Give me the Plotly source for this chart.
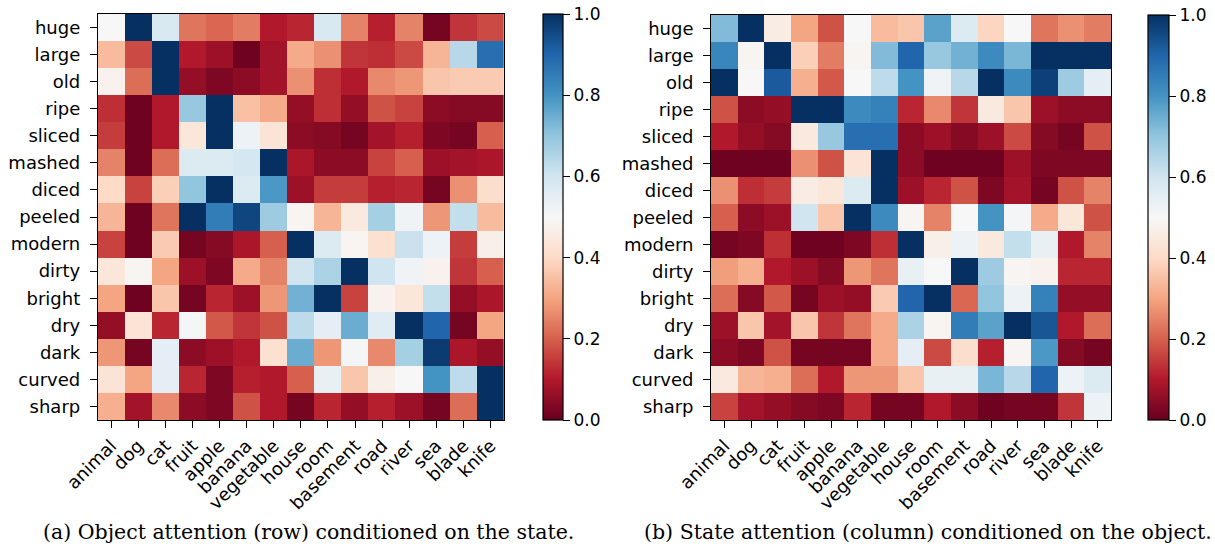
import plotly.graph_objects as go

states = ["huge", "large", "old", "ripe", "sliced", "mashed", "diced", "peeled",
          "modern", "dirty", "bright", "dry", "dark", "curved", "sharp"]
objects = ["animal", "dog", "cat", "fruit", "apple", "banana", "vegetable", "house",
           "room", "basement", "road", "river", "sea", "blade", "knife"]

# (a) Object attention (row) conditioned on the state
attn_a = [
    [0.50, 1.00, 0.58, 0.23, 0.21, 0.24, 0.10, 0.12, 0.58, 0.25, 0.11, 0.25, 0.02, 0.14, 0.17],
    [0.34, 0.17, 1.00, 0.10, 0.07, 0.01, 0.08, 0.31, 0.27, 0.14, 0.13, 0.17, 0.33, 0.64, 0.88],
    [0.48, 0.22, 1.00, 0.06, 0.03, 0.05, 0.08, 0.27, 0.13, 0.10, 0.26, 0.28, 0.36, 0.37, 0.37],
    [0.13, 0.01, 0.10, 0.69, 1.00, 0.35, 0.31, 0.06, 0.13, 0.06, 0.18, 0.16, 0.05, 0.04, 0.04],
    [0.15, 0.01, 0.10, 0.44, 1.00, 0.53, 0.43, 0.05, 0.04, 0.02, 0.08, 0.11, 0.03, 0.02, 0.20],
    [0.25, 0.01, 0.22, 0.57, 0.57, 0.59, 1.00, 0.09, 0.05, 0.05, 0.16, 0.20, 0.07, 0.08, 0.09],
    [0.40, 0.16, 0.38, 0.70, 1.00, 0.57, 0.79, 0.07, 0.15, 0.15, 0.11, 0.12, 0.02, 0.27, 0.41],
    [0.33, 0.01, 0.23, 1.00, 0.85, 0.96, 0.68, 0.49, 0.33, 0.45, 0.67, 0.52, 0.28, 0.62, 0.34],
    [0.16, 0.01, 0.37, 0.02, 0.04, 0.09, 0.20, 1.00, 0.57, 0.49, 0.42, 0.61, 0.53, 0.15, 0.47],
    [0.44, 0.49, 0.30, 0.07, 0.03, 0.31, 0.25, 0.60, 0.66, 1.00, 0.60, 0.52, 0.48, 0.14, 0.20],
    [0.30, 0.01, 0.36, 0.02, 0.12, 0.07, 0.28, 0.74, 1.00, 0.16, 0.48, 0.44, 0.62, 0.06, 0.09],
    [0.06, 0.43, 0.12, 0.51, 0.19, 0.14, 0.18, 0.63, 0.55, 0.75, 0.56, 1.00, 0.90, 0.02, 0.30],
    [0.28, 0.02, 0.55, 0.05, 0.07, 0.10, 0.42, 0.75, 0.28, 0.51, 0.26, 0.67, 0.98, 0.09, 0.06],
    [0.43, 0.30, 0.55, 0.12, 0.03, 0.11, 0.10, 0.20, 0.54, 0.36, 0.47, 0.50, 0.80, 0.63, 1.00],
    [0.32, 0.08, 0.26, 0.05, 0.03, 0.18, 0.10, 0.02, 0.12, 0.06, 0.11, 0.07, 0.02, 0.22, 1.00],
]

# (b) State attention (column) conditioned on the object
attn_b = [
    [0.72, 1.00, 0.46, 0.30, 0.18, 0.50, 0.34, 0.36, 0.77, 0.57, 0.39, 0.50, 0.23, 0.27, 0.24],
    [0.83, 0.49, 1.00, 0.38, 0.24, 0.49, 0.72, 0.90, 0.69, 0.74, 0.82, 0.73, 1.00, 1.00, 1.00],
    [1.00, 0.50, 0.92, 0.32, 0.19, 0.50, 0.63, 0.80, 0.52, 0.64, 1.00, 0.82, 0.97, 0.68, 0.55],
    [0.18, 0.05, 0.06, 1.00, 1.00, 0.82, 0.84, 0.12, 0.26, 0.14, 0.45, 0.36, 0.07, 0.05, 0.05],
    [0.10, 0.06, 0.04, 0.45, 0.69, 0.88, 0.88, 0.05, 0.07, 0.04, 0.07, 0.17, 0.04, 0.02, 0.18],
    [0.01, 0.01, 0.01, 0.27, 0.18, 0.43, 1.00, 0.05, 0.01, 0.01, 0.01, 0.07, 0.03, 0.03, 0.03],
    [0.27, 0.13, 0.15, 0.46, 0.44, 0.57, 1.00, 0.07, 0.12, 0.18, 0.03, 0.08, 0.02, 0.18, 0.25],
    [0.20, 0.05, 0.07, 0.60, 0.36, 1.00, 0.82, 0.49, 0.25, 0.50, 0.80, 0.51, 0.31, 0.44, 0.18],
    [0.02, 0.03, 0.13, 0.01, 0.01, 0.03, 0.13, 1.00, 0.47, 0.53, 0.45, 0.62, 0.54, 0.10, 0.25],
    [0.29, 0.32, 0.10, 0.07, 0.04, 0.28, 0.23, 0.54, 0.50, 1.00, 0.68, 0.49, 0.48, 0.12, 0.12],
    [0.22, 0.04, 0.19, 0.02, 0.07, 0.06, 0.37, 0.90, 1.00, 0.21, 0.70, 0.53, 0.84, 0.06, 0.06],
    [0.07, 0.36, 0.08, 0.36, 0.14, 0.23, 0.31, 0.66, 0.49, 0.85, 0.77, 1.00, 0.93, 0.10, 0.22],
    [0.05, 0.03, 0.18, 0.02, 0.02, 0.02, 0.31, 0.55, 0.17, 0.41, 0.11, 0.49, 0.79, 0.04, 0.02],
    [0.45, 0.33, 0.32, 0.22, 0.10, 0.28, 0.28, 0.36, 0.54, 0.54, 0.73, 0.64, 0.90, 0.53, 0.57],
    [0.16, 0.08, 0.06, 0.04, 0.03, 0.12, 0.02, 0.02, 0.10, 0.05, 0.01, 0.02, 0.02, 0.14, 0.53],
]

cbar_ticks = [0.0, 0.2, 0.4, 0.6, 0.8, 1.0]
captions = ["(a) Object attention (row) conditioned on the state.",
            "(b) State attention (column) conditioned on the object."]

RDBU = ['rgb(103,0,31)', 'rgb(178,24,43)', 'rgb(214,96,77)', 'rgb(244,165,130)',
        'rgb(253,219,199)', 'rgb(247,247,247)', 'rgb(209,229,240)', 'rgb(146,197,222)',
        'rgb(67,147,195)', 'rgb(33,102,172)', 'rgb(5,48,97)']
colorscale = [[i / 10, c] for i, c in enumerate(RDBU)]

W, H = 1215, 548
def px(x):
    return x / W
def py(y):
    return 1 - y / H

TICK_FONT = dict(family="DejaVu Sans", size=18, color="black")
CB_FONT = dict(family="DejaVu Sans", size=17, color="black")

panels = [
    dict(z=attn_a, x0=97.7, x1=504, y0=14, y1=420, cbx=543, cbw=20, capx=308),
    dict(z=attn_b, x0=711, x1=1111, y0=15, y1=420, cbx=1148, cbw=21, capx=928),
]

fig = go.Figure()
for i, p in enumerate(panels):
    xa = "x" if i == 0 else "x2"
    ya = "y" if i == 0 else "y2"
    fig.add_trace(go.Heatmap(
        z=p["z"], x=objects, y=states, xaxis=xa, yaxis=ya,
        colorscale=colorscale, zmin=0, zmax=1, xgap=0, ygap=0,
        colorbar=dict(
            x=px(p["cbx"]), xanchor="left", xpad=0, ypad=0,
            y=py((p["y0"] + p["y1"]) / 2), yanchor="middle",
            lenmode="pixels", len=p["y1"] - p["y0"],
            thicknessmode="pixels", thickness=p["cbw"],
            outlinewidth=1.2, outlinecolor="black",
            tickmode="array", tickvals=cbar_ticks,
            ticktext=[f"{t:.1f}" for t in cbar_ticks],
            ticks="outside", ticklen=7, tickwidth=1.2, tickcolor="black",
            tickfont=CB_FONT,
        ),
        hovertemplate="%{y} / %{x}: %{z:.2f}<extra></extra>",
    ))
    axis_common = dict(showline=True, mirror=True, linecolor="black", linewidth=1.3,
                       ticks="outside", ticklen=7, tickwidth=1.2, tickcolor="black",
                       tickfont=TICK_FONT, showgrid=False, zeroline=False,
                       automargin=False)
    fig.update_layout(**{
        ("xaxis" if i == 0 else "xaxis2"): dict(
            domain=[px(p["x0"]), px(p["x1"])], anchor=ya, tickangle=-45,
            **axis_common),
        ("yaxis" if i == 0 else "yaxis2"): dict(
            domain=[py(p["y1"]), py(p["y0"])], anchor=xa, autorange="reversed",
            ticksuffix=" ", **axis_common),
    })
    fig.add_annotation(
        x=px(p["capx"]), y=py(532), xref="paper", yref="paper",
        text=captions[i], showarrow=False, xanchor="center", yanchor="middle",
        font=dict(family="DejaVu Serif", size=20.5, color="black"),
    )

fig.update_layout(
    width=W, height=H, margin=dict(l=0, r=0, t=0, b=0, autoexpand=False),
    paper_bgcolor="white", plot_bgcolor="white", showlegend=False,
)

fig.write_html("out.html", config={"displayModeBar": False},
               post_script="document.body.style.margin='0';document.body.style.overflow='hidden';")
